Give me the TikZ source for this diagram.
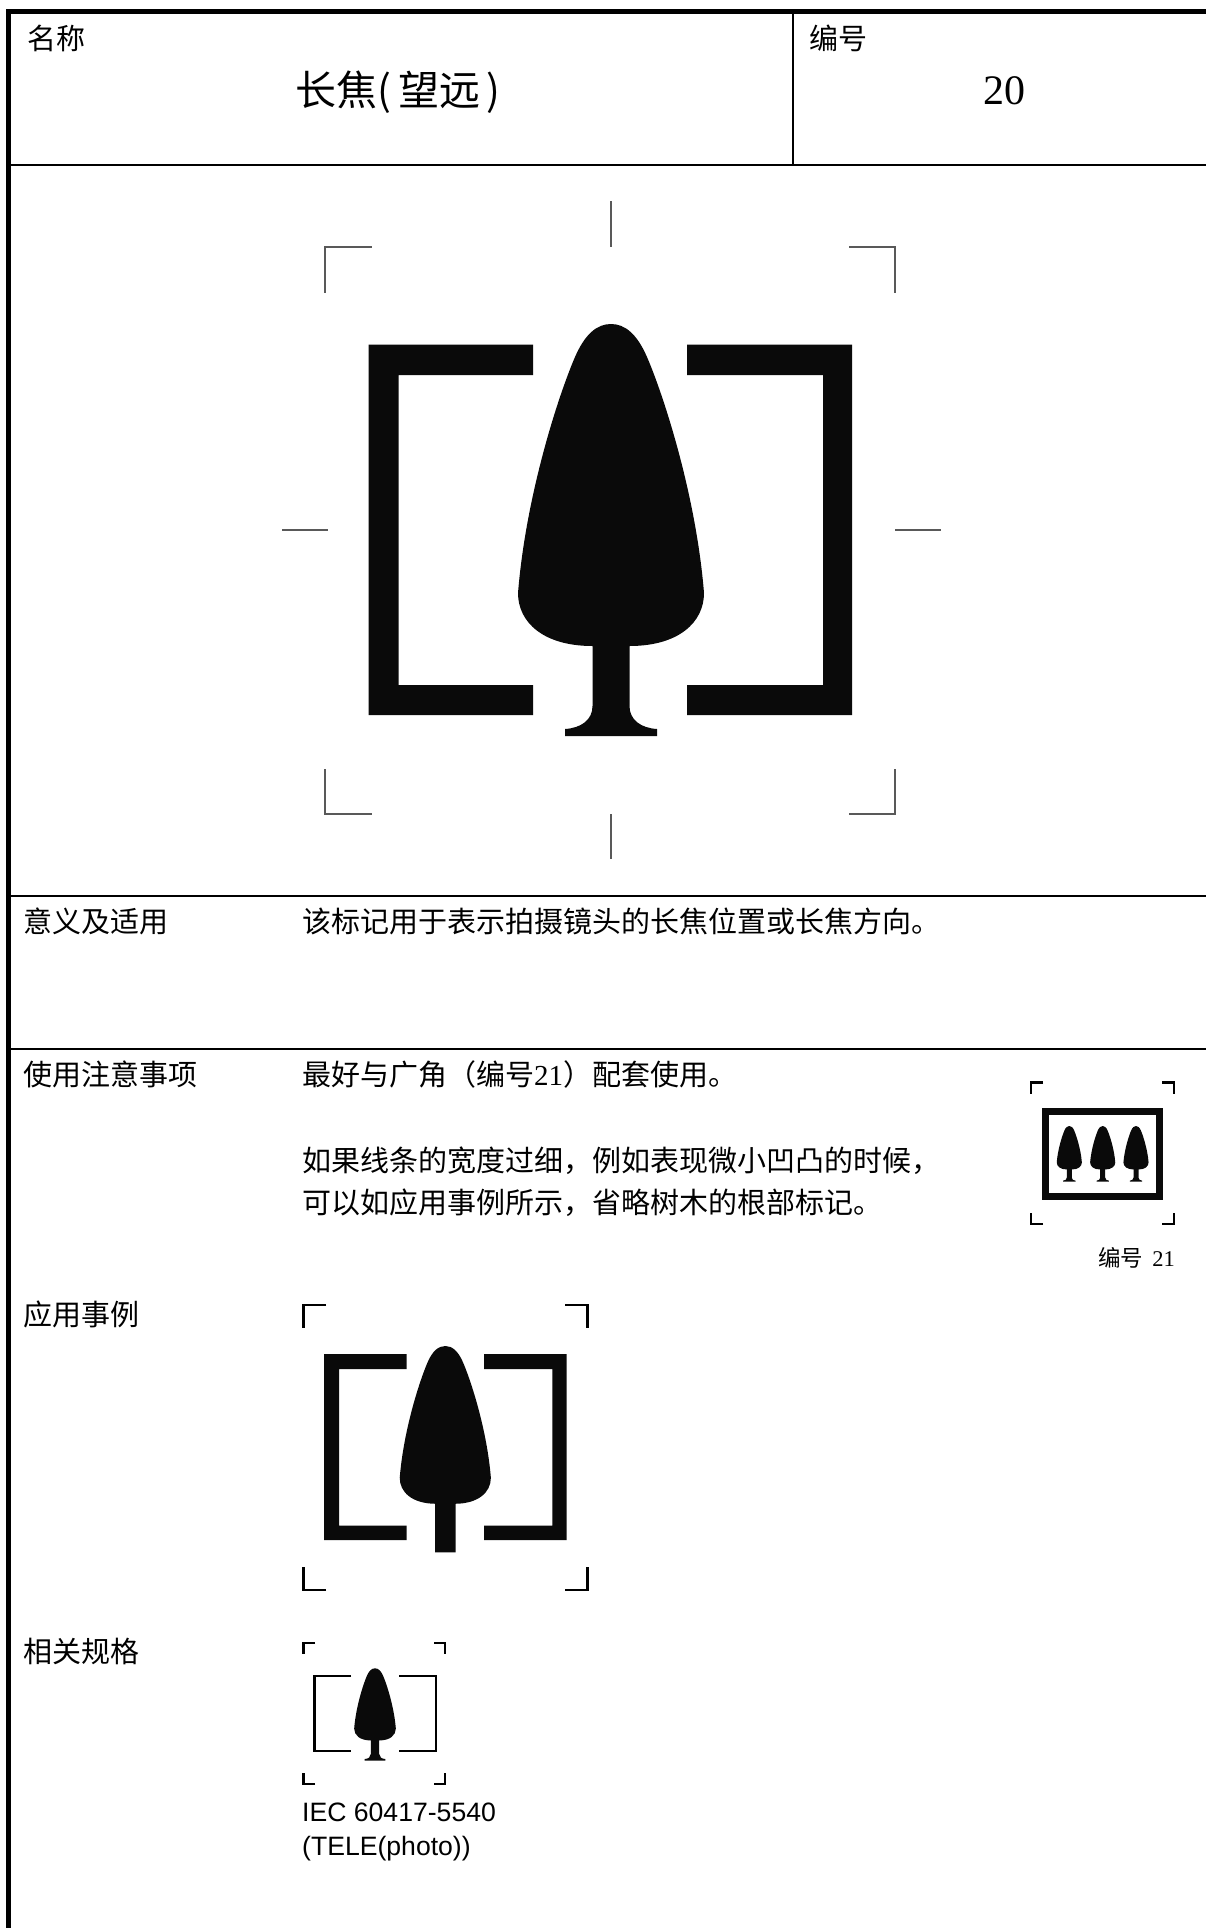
\documentclass[tikz,border=0pt]{standalone}
\usepackage{fontspec}
\newfontfamily\cjk{Noto Sans CJK SC}
\newfontfamily\lat{Liberation Serif}
\newfontfamily\ari{Liberation Sans}
% crown outline, origin at the top of the tree, unit = px of the large symbol
\newcommand{\crownright}{(0,0) .. controls (14,0) and (26,10) .. (36,33) .. controls (52,70) and (85,170) .. (93,269) .. controls (93,298) and (68,322) .. (18.5,322)}
\newcommand{\crownleft}{(-18.5,322) .. controls (-68,322) and (-93,298) .. (-93,269) .. controls (-85,170) and (-52,70) .. (-36,33) .. controls (-26,10) and (-14,0) .. (0,0)}
\newcommand{\fulltree}[3]{\fill[symbolfill,shift={(#1,#2)},scale=#3] \crownright -- (18.5,382) .. controls (18.5,396) and (30,404) .. (46,405) -- (46,412) -- (-46,412) -- (-46,405) .. controls (-30,404) and (-18.5,396) .. (-18.5,382) -- \crownleft -- cycle;}
\begin{document}
\begin{tikzpicture}[x=1pt,y=-1pt,
  tablerule/.style={draw=black,line width=2pt},
  tablethick/.style={draw=black,line width=5pt},
  cell/.style={inner sep=0pt,anchor=base west,font=\cjk\fontsize{29}{29}\selectfont},
  symbolfill/.style={fill=black!96},
  graymark/.style={draw=black!65,line width=2.2pt},
  blackmark/.style={draw=black,line width=2.4pt,line cap=butt,line join=miter},
]
\useasboundingbox (0,0) rectangle (1206,1928);
\fill[white] (0,0) rectangle (1206,1928);
% table rules
\draw[tablethick] (8.5,1928) -- (8.5,11.5) -- (1206,11.5);
\draw[tablerule] (8.5,165) -- (1206,165);
\draw[tablerule] (793,11.5) -- (793,165);
\draw[tablerule] (8.5,895.5) -- (1206,895.5);
\draw[tablerule] (8.5,1049) -- (1206,1049);
% header text
\node[cell] (nameLabel) at (27,49) {名称};
\node[cell] (numLabel) at (809,49) {编号};
\node[inner sep=0pt,anchor=base west,font=\cjk\fontsize{41}{41}\selectfont] (nameText) at (295.5,105) {长焦\makebox[.5em][l]{(}望远\makebox[.5em][r]{)}};
\node[inner sep=0pt,anchor=base,font=\lat\fontsize{42}{42}\selectfont] (numText) at (1004,104) {20};
% main symbol: registration marks
\draw[graymark] (371.5,247) -- (325,247) -- (325,293);
\draw[graymark] (849,247) -- (895,247) -- (895,293);
\draw[graymark] (371.5,814) -- (325,814) -- (325,769);
\draw[graymark] (849,814) -- (895,814) -- (895,769);
\draw[graymark] (611,201) -- (611,247);
\draw[graymark] (611,814) -- (611,859);
\draw[graymark] (282,530) -- (328,530);
\draw[graymark] (895,530) -- (941,530);
% main symbol: brackets and tree
\fill[symbolfill] (533,344.5) -- (368.5,344.5) -- (368.5,715) -- (533,715) -- (533,685) -- (398.5,685) -- (398.5,375) -- (533,375) -- cycle;
\fill[symbolfill] (687,344.5) -- (852,344.5) -- (852,715) -- (687,715) -- (687,685) -- (823,685) -- (823,375) -- (687,375) -- cycle;
\fulltree{611}{324}{1}
% rows
\node[cell] (meanLabel) at (23,932) {意义及适用};
\node[cell] (meanText) at (302,932) {该标记用于表示拍摄镜头的长焦位置或长焦方向。};
\node[cell] (noteLabel) at (23,1085) {使用注意事项};
\node[cell] (noteA) at (302,1085) {最好与广角（编号{\lat 21}）配套使用。};
\node[cell] (noteB) at (302,1171) {如果线条的宽度过细，例如表现微小凹凸的时候，};
\node[cell] (noteC) at (302,1213) {可以如应用事例所示，省略树木的根部标记。};
\node[cell] (appLabel) at (23,1325) {应用事例};
\node[cell] (specLabel) at (23,1662) {相关规格};
% symbol no. 21
\draw[blackmark] (1043,1082.5) -- (1031,1082.5) -- (1031,1094);
\draw[blackmark] (1162,1082.5) -- (1174,1082.5) -- (1174,1094);
\draw[blackmark] (1043,1224) -- (1031,1224) -- (1031,1213);
\draw[blackmark] (1162,1224) -- (1174,1224) -- (1174,1213);
\draw[black!96,line width=7.5pt] (1045.5,1111.5) rectangle (1159.5,1196.5);
\fulltree{1069.3}{1126}{0.135}
\fulltree{1102.7}{1126}{0.135}
\fulltree{1136}{1126}{0.135}
\node[inner sep=0pt,anchor=base east,font=\cjk\fontsize{22.5}{22.5}\selectfont] (no21) at (1175,1266) {编号\hspace{9pt}{\lat 21}};
% application example
\draw[blackmark] (326,1305) -- (303.5,1305) -- (303.5,1328);
\draw[blackmark] (565,1305) -- (587.5,1305) -- (587.5,1328);
\draw[blackmark] (326,1590) -- (303.5,1590) -- (303.5,1567);
\draw[blackmark] (565,1590) -- (587.5,1590) -- (587.5,1567);
\fill[symbolfill] (406.7,1354) -- (324,1354) -- (324,1540) -- (406.7,1540) -- (406.7,1525.7) -- (339,1525.7) -- (339,1369) -- (406.7,1369) -- cycle;
\fill[symbolfill] (484,1354) -- (566.7,1354) -- (566.7,1540) -- (484,1540) -- (484,1525.7) -- (552.3,1525.7) -- (552.3,1369) -- (484,1369) -- cycle;
\fill[symbolfill,shift={(445.3,1346)},scale=0.49] \crownright -- (21,322) -- (21,421) -- (-21,421) -- (-21,322) -- \crownleft -- cycle;
% IEC symbol
\draw[blackmark] (315,1642.7) -- (303.5,1642.7) -- (303.5,1654);
\draw[blackmark] (434,1642.7) -- (445,1642.7) -- (445,1654);
\draw[blackmark] (315,1784) -- (303.5,1784) -- (303.5,1773);
\draw[blackmark] (434,1784) -- (445,1784) -- (445,1773);
\draw[black,line width=2.4pt] (351,1676) -- (314.3,1676) -- (314.3,1751) -- (351,1751);
\draw[black,line width=2.4pt] (399,1676) -- (435.7,1676) -- (435.7,1751) -- (399,1751);
\fulltree{375}{1668.3}{0.224}
\node[inner sep=0pt,anchor=base west,font=\ari\fontsize{26.6}{26.6}\selectfont] (iecA) at (302,1821) {IEC 60417-5540};
\node[inner sep=0pt,anchor=base west,font=\ari\fontsize{26.6}{26.6}\selectfont] (iecB) at (302,1855) {(TELE(photo))};
\end{tikzpicture}
\end{document}
